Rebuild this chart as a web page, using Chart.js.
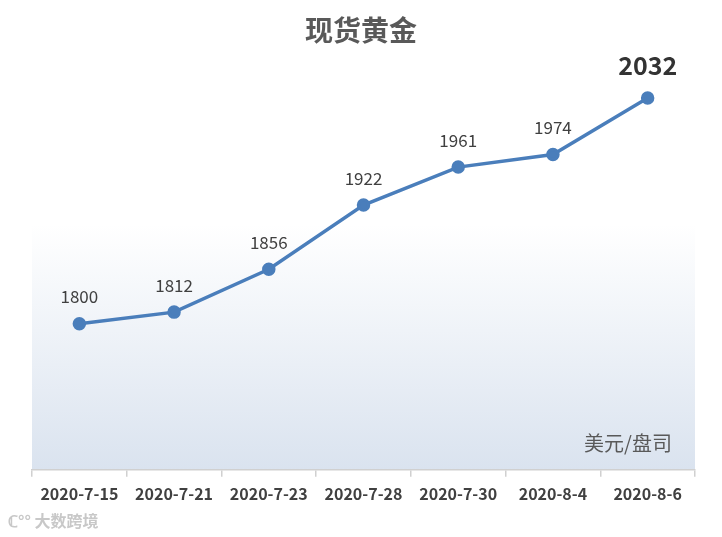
<!DOCTYPE html>
<html>
<head>
<meta charset="utf-8">
<script src="https://cdn.jsdelivr.net/npm/chart.js@4/dist/chart.umd.min.js"></script>
<style>
  body { margin: 0; background: #fff; }
  #wrap { width: 722px; height: 537px; position: relative; }
</style>
</head>
<body>
<div id="wrap"><canvas id="graph"></canvas></div>
<script>
var dates = ["2020-7-15", "2020-7-21", "2020-7-23", "2020-7-28", "2020-7-30", "2020-8-4", "2020-8-6"];
var prices = [1800, 1812, 1856, 1922, 1961, 1974, 2032];

var FONT = "'Microsoft YaHei', 'Noto Sans CJK SC', 'Open Sans', sans-serif";

// gradient backdrop, title, labels, unit, watermark
var decor = {
	id: 'decor',
	beforeDraw: function(chart) {
		var ctx = chart.ctx, a = chart.chartArea;
		var g = ctx.createLinearGradient(0, a.top, 0, a.bottom);
		g.addColorStop(0, '#ffffff');
		g.addColorStop(0.4, '#ffffff');
		g.addColorStop(1, '#dae3ef');
		ctx.save();
		ctx.fillStyle = g;
		ctx.fillRect(a.left, a.top, a.right - a.left, a.bottom - a.top);
		ctx.restore();
	},
	afterDatasetsDraw: function(chart) {
		var ctx = chart.ctx, a = chart.chartArea;
		var meta = chart.getDatasetMeta(0);
		ctx.save();
		ctx.textAlign = 'center';
		ctx.textBaseline = 'middle';
		meta.data.forEach(function(pt, i) {
			var last = i == meta.data.length - 1;
			ctx.fillStyle = last ? '#333333' : '#404040';
			ctx.font = (last ? 'bold 25px ' : '17px ') + FONT;
			ctx.fillText(prices[i], pt.x, pt.y - (last ? 32 : 27));
		});
		ctx.fillStyle = '#595959';
		ctx.font = 'bold 28px ' + FONT;
		ctx.fillText('现货黄金', 361, 30);
		ctx.font = '20px ' + FONT;
		ctx.fillText('美元/盘司', 628, 443);
		ctx.fillStyle = '#c8c8c8';
		ctx.font = 'bold 16px ' + FONT;
		ctx.textAlign = 'left';
		ctx.fillText('ℂ°° 大数跨境', 8, 521);
		ctx.restore();
	}
};

var ctx = document.getElementById("graph").getContext("2d");
var myChart = new Chart(ctx, {
	type: 'line',
	data: {
		labels: dates,
		datasets: [
			{
				data: prices,
				borderColor: "#4a7ebb",
				backgroundColor: "#4a7ebb",
				borderWidth: 3.5,
				pointRadius: 5,
				pointBackgroundColor: "#4a7ebb",
				pointBorderColor: "#4a7ebb",
				tension: 0,
				fill: false
			}
		]
	},
	options: {
		responsive: true,
		maintainAspectRatio: false,
		animation: false,
		layout: { padding: { top: 61, left: 32, right: 27, bottom: 25 } },
		plugins: { legend: { display: false }, tooltip: { enabled: false } },
		scales: {
			x: {
				offset: true,
				grid: { offset: true, drawOnChartArea: false, tickLength: 7, color: '#d0d0d0', lineWidth: 1.5 },
				border: { color: '#d0d0d0', width: 1.5 },
				ticks: { color: '#404040', padding: 8, font: { family: FONT, size: 16, weight: 'bold' } }
			},
			y: {
				display: false,
				min: 1650,
				max: 2070
			}
		}
	},
	plugins: [decor]
});
</script>
</body>
</html>
